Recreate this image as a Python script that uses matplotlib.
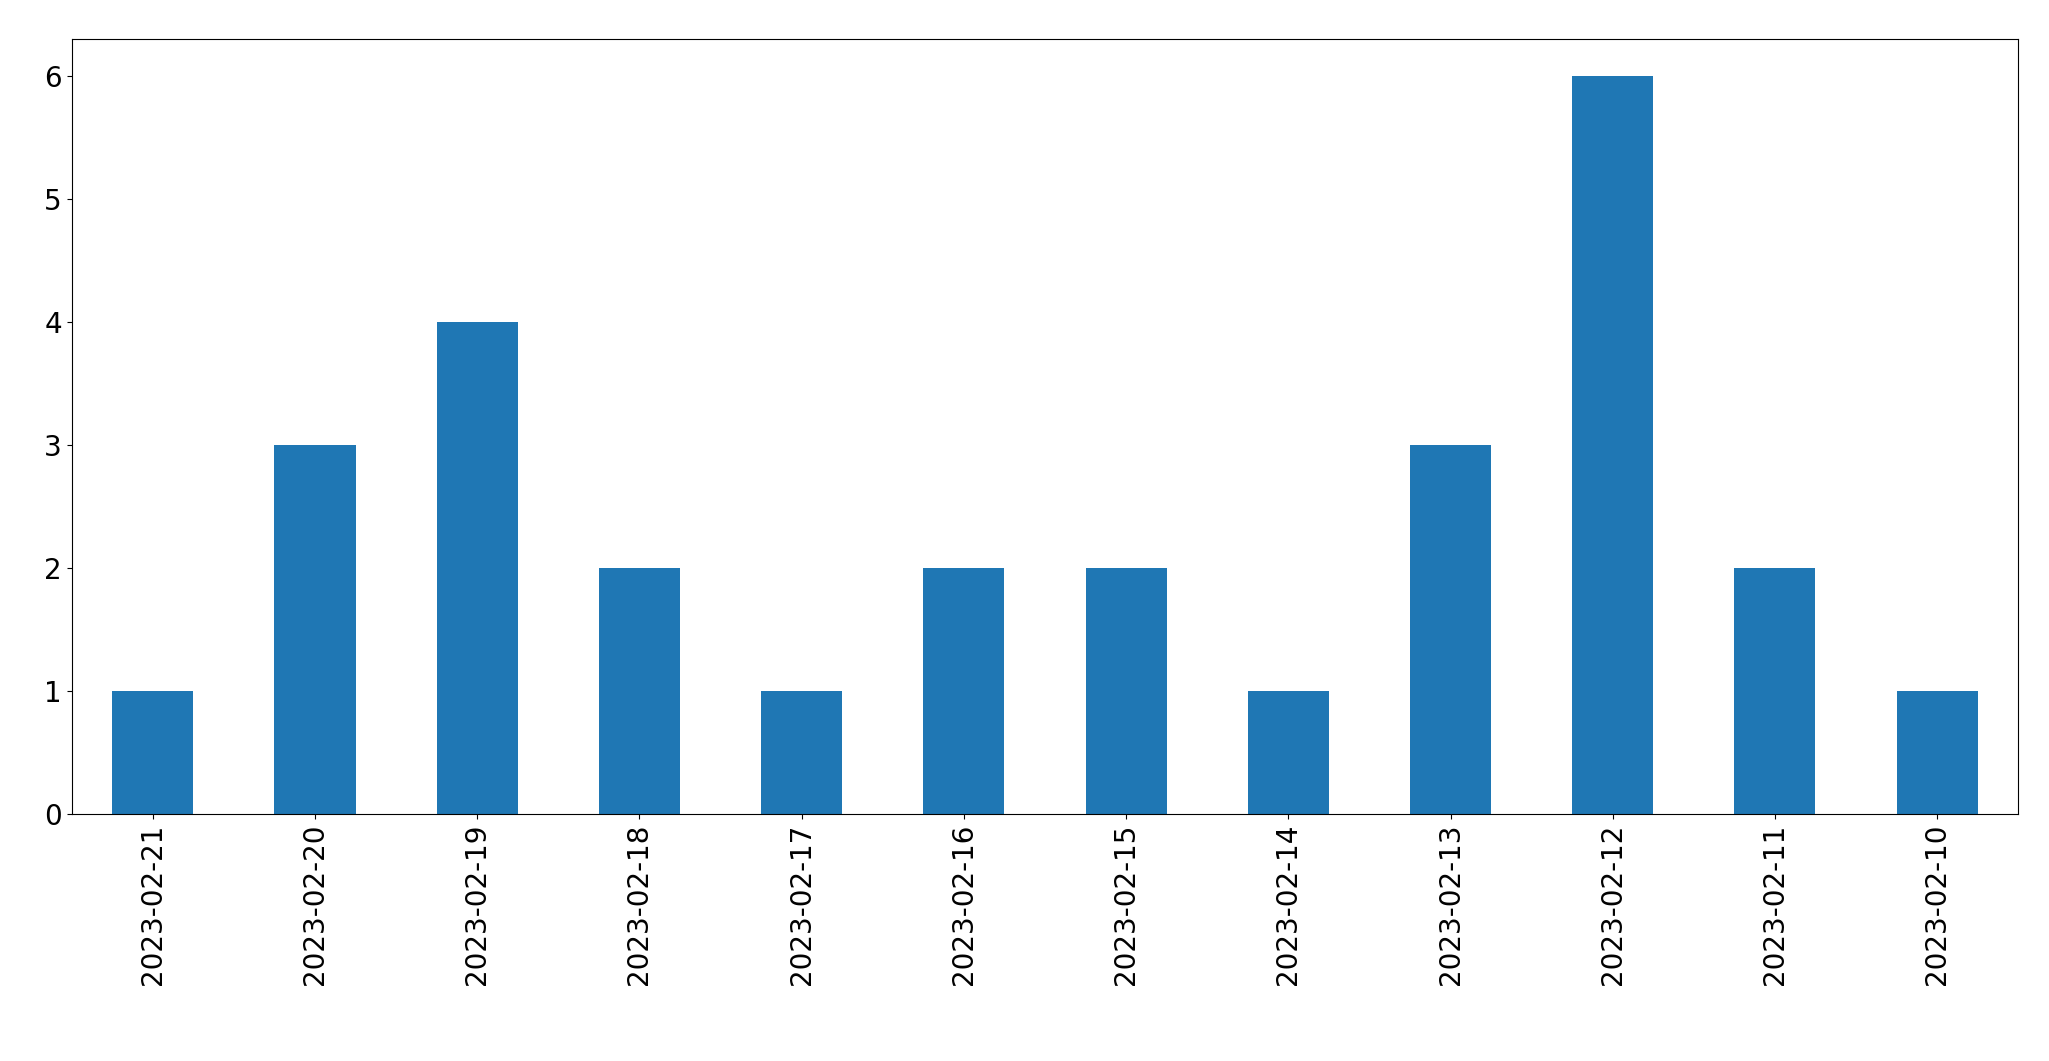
import matplotlib
matplotlib.use("Agg")
import matplotlib.pyplot as plt

dates = ["2023-02-21","2023-02-20","2023-02-19","2023-02-18","2023-02-17","2023-02-16",
         "2023-02-15","2023-02-14","2023-02-13","2023-02-12","2023-02-11","2023-02-10"]
counts = [1,3,4,2,1,2,2,1,3,6,2,1]

fig = plt.figure(figsize=(20.49,10.61), dpi=100)
ax = fig.add_axes([0.035,0.233,0.950,0.730])
x = range(len(dates))
ax.bar(x, counts, width=0.5, color="#1f77b4")
ax.set_xticks(list(x))
ax.set_xticklabels(dates, rotation=90, fontsize=20)
ax.tick_params(axis="y", labelsize=20)
ax.set_xlim(-0.5, len(dates)-0.5)
ax.set_ylim(0, 6.3)
fig.savefig("out.png", dpi=100)
